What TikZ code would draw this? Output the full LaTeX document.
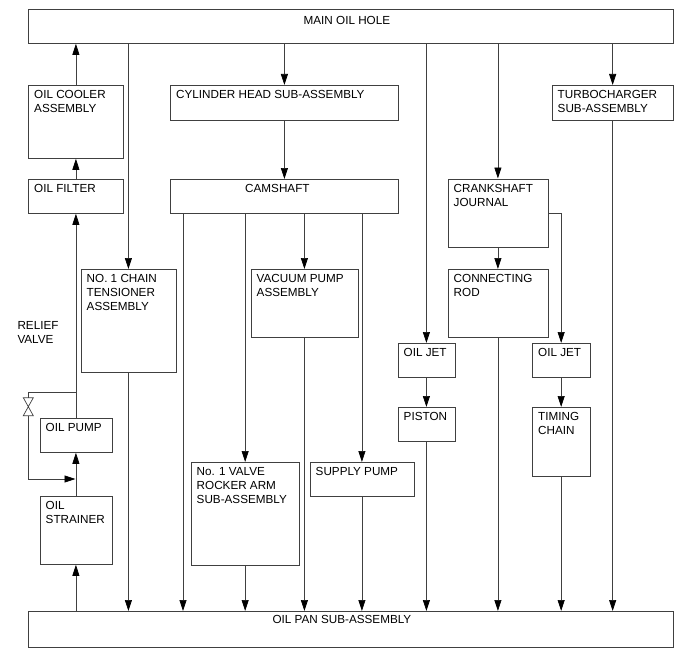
\documentclass[tikz,border=0pt]{standalone}
\usepackage{fontspec}
\setmainfont{Liberation Sans}
\usetikzlibrary{arrows.meta}

\tikzset{
  box/.style={draw=black!75, line width=0.8pt, anchor=north west, inner sep=0pt},
  txt/.style={anchor=north west, align=left, inner xsep=6pt, inner ysep=5.5pt},
  ttl/.style={anchor=north, inner ysep=5.5pt},
  pipe/.style={draw=black!75, line width=0.7pt},
  flow/.style={pipe, -{Triangle[length=11pt,width=7pt,color=black]}}
}

\begin{document}
\begin{tikzpicture}[x=1pt,y=-1pt,font=\fontsize{11.7}{14}\selectfont]
  \useasboundingbox (0,0) rectangle (688,658);

  % main gallery and oil pan
  \node[box, minimum width=645pt, minimum height=33.5pt, label={[ttl, xshift=-4pt, inner ysep=7pt]north:MAIN OIL HOLE}] (hole) at (28,9.5) {};
  \node[box, minimum width=645pt, minimum height=36pt, label={[ttl, xshift=-9pt, inner ysep=4.5pt]north:OIL PAN SUB-ASSEMBLY}] (pan) at (28,611) {};

  % left column
  \node[box, minimum width=95pt, minimum height=73pt, label={[txt]north west:OIL COOLER\\ASSEMBLY}] (cooler) at (28,85) {};
  \node[box, minimum width=95pt, minimum height=34pt, label={[txt]north west:OIL FILTER}] (filter) at (28,179) {};
  \node[box, minimum width=95pt, minimum height=103pt, label={[txt]north west:NO. 1 CHAIN\\TENSIONER\\ASSEMBLY}] (tens) at (80.5,269) {};
  \node[box, minimum width=72pt, minimum height=34pt, label={[txt]north west:OIL PUMP}] (pump) at (39.5,418) {};
  \node[box, minimum width=72pt, minimum height=68pt, label={[txt]north west:OIL\\STRAINER}] (strainer) at (39.5,496) {};
  \node[txt, inner sep=0pt] (relief) at (17.3,321.7) {RELIEF\\VALVE};

  % cylinder head side
  \node[box, minimum width=228pt, minimum height=35pt, label={[txt]north west:CYLINDER HEAD SUB-ASSEMBLY}] (head) at (170,85) {};
  \node[box, minimum width=228pt, minimum height=34pt, label={[ttl, xshift=-7pt, inner ysep=5pt]north:CAMSHAFT}] (cam) at (170,179) {};
  \node[box, minimum width=107pt, minimum height=68pt, label={[txt]north west:VACUUM PUMP\\ASSEMBLY}] (vac) at (250.5,269) {};
  \node[box, minimum width=108.5pt, minimum height=102.5pt, label={[txt]north west:No. 1 VALVE\\ROCKER ARM\\SUB-ASSEMBLY}] (rocker) at (190.5,462) {};
  \node[box, minimum width=104pt, minimum height=34pt, label={[txt]north west:SUPPLY PUMP}] (supply) at (309.5,462) {};

  % crank side
  \node[box, minimum width=57pt, minimum height=34pt, label={[txt]north west:OIL JET}] (jet1) at (397.5,343) {};
  \node[box, minimum width=57pt, minimum height=34pt, label={[txt]north west:PISTON}] (piston) at (397.5,407) {};
  \node[box, minimum width=100pt, minimum height=68pt, label={[txt]north west:CRANKSHAFT\\JOURNAL}] (crank) at (447.5,178.5) {};
  \node[box, minimum width=100pt, minimum height=68pt, label={[txt]north west:CONNECTING\\ROD}] (conrod) at (447.5,269) {};
  \node[box, minimum width=57.5pt, minimum height=34pt, label={[txt]north west:OIL JET}] (jet2) at (532,343) {};
  \node[box, minimum width=57.5pt, minimum height=69pt, label={[txt]north west:TIMING\\CHAIN}] (timing) at (532,407) {};
  \node[box, minimum width=121.5pt, minimum height=35pt, label={[txt]north west:TURBOCHARGER\\SUB-ASSEMBLY}] (turbo) at (551.5,85) {};

  % pump circuit
  \draw[flow] (strainer.south |- pan.north) -- (strainer.south);
  \draw[flow] (strainer.north) -- (pump.south);
  \draw[flow] (pump.north) -- (pump.north |- filter.south);
  \draw[flow] (filter.north) -- (filter.north |- cooler.south);
  \draw[flow] (cooler.north) -- (cooler.north |- hole.south);

  % relief valve bypass
  \coordinate (rvout) at (75.5,392);
  \coordinate (rvin) at (75.5,479);
  \coordinate (vtop) at (28.3,397.7);
  \coordinate (vbot) at (28.3,415.7);
  \draw[pipe] (rvout) -| (vtop);
  \draw[pipe] (vtop) ++(-5,0) -- ++(10,0) -- ++(-10,18) -- ++(10,0) -- cycle;
  \draw[flow] (vbot) |- (rvin);

  % tensioner
  \draw[flow] (tens.north |- hole.south) -- (tens.north);
  \draw[flow] (tens.south) -- (tens.south |- pan.north);

  % head and camshaft
  \draw[flow] (head.north |- hole.south) -- (head.north);
  \draw[flow] (head.south) -- (cam.north);
  \coordinate (camtap) at (183,213.3);
  \draw[flow] (camtap) -- (camtap |- pan.north);
  \draw[flow] (rocker.north |- cam.south) -- (rocker.north);
  \draw[flow] (rocker.south) -- (rocker.south |- pan.north);
  \draw[flow] (vac.north |- cam.south) -- (vac.north);
  \draw[flow] (vac.south) -- (vac.south |- pan.north);
  \draw[flow] (supply.north |- cam.south) -- (supply.north);
  \draw[flow] (supply.south) -- (supply.south |- pan.north);

  % piston jet
  \draw[flow] (jet1.north |- hole.south) -- (jet1.north);
  \draw[flow] (jet1.south) -- (piston.north);
  \draw[flow] (piston.south) -- (piston.south |- pan.north);

  % crankshaft
  \draw[flow] (crank.north |- hole.south) -- (crank.north);
  \draw[flow] (crank.south) -- (conrod.north);
  \draw[flow] (conrod.south) -- (conrod.south |- pan.north);
  \draw[flow] (crank.east) -| (jet2.north);
  \draw[flow] (jet2.south) -- (timing.north);
  \draw[flow] (timing.south) -- (timing.south |- pan.north);

  % turbo
  \draw[flow] (turbo.north |- hole.south) -- (turbo.north);
  \draw[flow] (turbo.south) -- (turbo.south |- pan.north);
\end{tikzpicture}
\end{document}
